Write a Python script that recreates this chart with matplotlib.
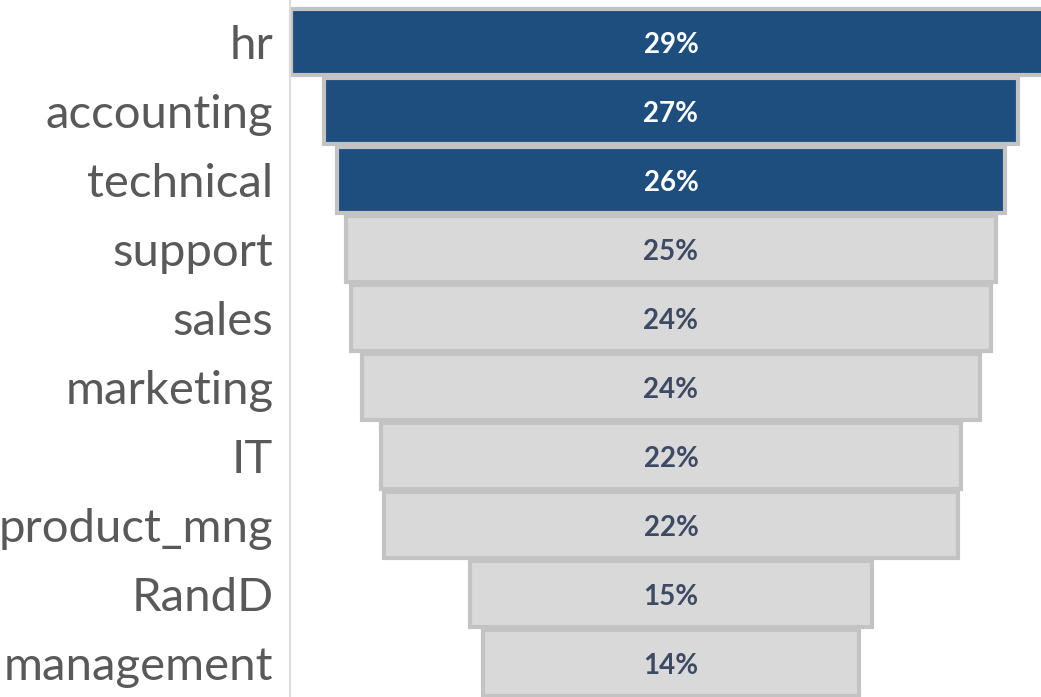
import matplotlib
matplotlib.use("Agg")
import matplotlib.pyplot as plt
import numpy as np

departments = ["hr", "accounting", "technical", "support", "sales",
               "marketing", "IT", "product_mng", "RandD", "management"]
turnover = [29.1, 26.6, 25.6, 24.9, 24.5, 23.7, 22.2, 22.0, 15.4, 14.4]
labels = ["29%", "27%", "26%", "25%", "24%", "24%", "22%", "22%", "15%", "14%"]
highlight = [True, True, True, False, False, False, False, False, False, False]

plt.rcParams['font.family'] = ['Lato', 'DejaVu Sans']

fig = plt.figure(figsize=(10.41, 6.97), dpi=100)
ax = fig.add_axes([290 / 1041, 0, 1 - 290 / 1041, 1])

dark = "#1d4e7e"
light = "#d9d9d9"
edge = "#c3c3c3"

y = np.arange(len(departments))
vals = np.array(turnover)
colors = [dark if h else light for h in highlight]
ax.barh(y, vals, left=-vals / 2, height=0.95, color=colors,
        edgecolor=edge, linewidth=3, zorder=2)

for yi, lab, h in zip(y, labels, highlight):
    ax.text(0, yi + 0.04, lab, ha="center", va="center", fontsize=20,
            fontweight="bold", color="white" if h else "#3d4a63", zorder=3)

scale = 26.1  # px per unit
ax.set_xlim(-(671 - 290) / scale, (1041 - 671) / scale)
ax.set_ylim((697 - 42) / 69, -42 / 69)

ax.set_yticks(y)
ax.set_yticklabels(departments, fontsize=34, color="#595959")
ax.tick_params(axis="y", length=0, pad=12)
ax.set_xticks([])
for s in ["top", "right", "bottom"]:
    ax.spines[s].set_visible(False)
ax.spines["left"].set_color("#dcdcdc")
ax.spines["left"].set_linewidth(1.5)

fig.savefig("out.png", dpi=100)
